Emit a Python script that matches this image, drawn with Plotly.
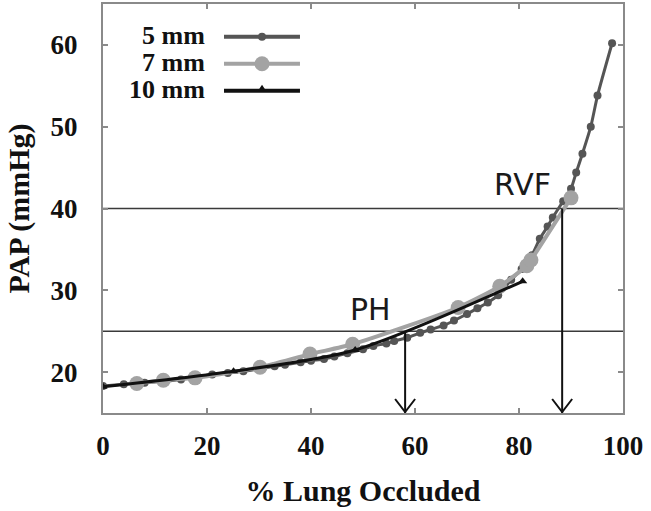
import plotly.graph_objects as go

# ---- data ----
x_5mm = [0, 4, 8, 12, 15, 18, 21, 24, 27, 30, 33, 35, 38, 40, 42.5, 44.5, 47, 50, 52, 54.5,
         56, 58.5, 61, 63, 65.5, 67.5, 70, 72, 74, 76, 78.5, 80.5, 82.5, 84, 85.5, 86.5,
         88.5, 90, 91, 92.2, 93.8, 95.1, 97.9]
y_5mm = [18.3, 18.5, 18.7, 18.9, 19.1, 19.4, 19.7, 19.9, 20.1, 20.4, 20.7, 20.9, 21.2, 21.4,
         21.6, 21.9, 22.3, 22.8, 23.2, 23.5, 23.8, 24.2, 24.8, 25.2, 25.7, 26.3, 27.1, 27.8,
         28.5, 29.4, 31.3, 32.6, 34.3, 36.3, 37.8, 38.9, 40.9, 42.4, 44.4, 46.7, 50.0, 53.8, 60.2]

x_7mm = [6.5, 11.6, 17.7, 30.2, 39.8, 48.0, 68.3, 76.3, 81.5, 82.3, 90.0]
y_7mm = [18.6, 19.0, 19.3, 20.6, 22.2, 23.4, 27.9, 30.5, 33.0, 33.7, 41.3]

x_10mm = [0, 25.1, 48.5, 80.7]
y_10mm = [18.2, 20.1, 22.7, 31.1]

series_names = ["5 mm", "7 mm", "10 mm"]
series_colors = ["#555555", "#a3a3a3", "#111111"]

x_ticks = [0, 20, 40, 60, 80, 100]
y_ticks = [20, 30, 40, 50, 60]

threshold_levels = [25, 40]           # PH and RVF pressure thresholds
threshold_labels = ["PH", "RVF"]
threshold_occlusion = [58.1, 88.3]    # % occluded where threshold is reached
label_pos_x = [51.5, 80.7]
label_pos_y = [27.7, 42.9]

x_range = [0, 100]
y_range = [15, 65]

# ---- figure ----
fig = go.Figure()

fig.add_trace(go.Scatter(
    x=x_5mm, y=y_5mm, mode="lines+markers", name=series_names[0],
    line=dict(color=series_colors[0], width=3, shape="spline", smoothing=0.6),
    marker=dict(symbol="circle", size=8, color=series_colors[0]),
    showlegend=False))
fig.add_trace(go.Scatter(
    x=x_7mm, y=y_7mm, mode="lines+markers", name=series_names[1],
    line=dict(color=series_colors[1], width=4, shape="spline", smoothing=0.6),
    marker=dict(symbol="circle", size=15, color=series_colors[1]),
    showlegend=False))
fig.add_trace(go.Scatter(
    x=x_10mm, y=y_10mm, mode="lines+markers", name=series_names[2],
    line=dict(color=series_colors[2], width=3, shape="spline", smoothing=0.8),
    marker=dict(symbol="triangle-up", size=8, color=series_colors[2]),
    showlegend=False))

# threshold horizontal lines
for lvl in threshold_levels:
    fig.add_hline(y=lvl, line=dict(color="#3a3a3a", width=1.5), layer="below")

# arrows down to the x-axis (line + open V head) and labels
for xo, lvl, lab, lx, ly in zip(threshold_occlusion, threshold_levels, threshold_labels,
                                label_pos_x, label_pos_y):
    fig.add_shape(type="line", xref="x", yref="y", x0=xo, x1=xo, y0=lvl, y1=y_range[0],
                  line=dict(color="#111111", width=2))
    fig.add_shape(type="path", xref="x", yref="y", xsizemode="pixel", ysizemode="pixel",
                  xanchor=xo, yanchor=y_range[0], path="M-10,14 L0,1 L10,14",
                  line=dict(color="#111111", width=2))
    fig.add_annotation(x=lx, y=ly, xref="x", yref="y", text=lab, showarrow=False,
                       font=dict(family="DejaVu Sans", size=30, color="#1a1a1a"))

# custom legend (text left of the sample lines)
leg_y = [0.920, 0.854, 0.788]
leg_marker = [("circle", 8), ("circle", 15), ("triangle", 7)]
for name, col, yy, (sym, sz) in zip(series_names, series_colors, leg_y, leg_marker):
    fig.add_annotation(x=0.2, y=yy, xref="paper", yref="paper", xanchor="right",
                       yanchor="middle", text=name, showarrow=False, height=26, yshift=2,
                       font=dict(family="Liberation Serif", size=26, color="#111111",
                                 weight="bold"))
    fig.add_shape(type="line", xref="paper", yref="paper", x0=0.2327, x1=0.3788,
                  y0=yy, y1=yy, line=dict(color=col, width=4))
    if sym == "circle":
        fig.add_shape(type="circle", xref="paper", yref="paper",
                      xsizemode="pixel", ysizemode="pixel", xanchor=0.3058, yanchor=yy,
                      x0=-sz / 2, x1=sz / 2, y0=-sz / 2, y1=sz / 2,
                      fillcolor=col, line=dict(width=0))
    else:
        fig.add_shape(type="path", xref="paper", yref="paper",
                      xsizemode="pixel", ysizemode="pixel", xanchor=0.3058, yanchor=yy,
                      path="M-4,0 L4,0 L0,6 Z", fillcolor=col, line=dict(width=0))

axis_common = dict(showgrid=False, zeroline=False, showline=True, linecolor="#8a8a8a",
                   linewidth=2, mirror="ticks", ticks="inside", ticklen=5,
                   tickcolor="#8a8a8a", tickwidth=1.5,
                   tickfont=dict(family="Liberation Serif", size=27, color="#111111",
                                 weight="bold"))

fig.update_layout(
    width=651, height=511,
    margin=dict(l=103, r=28, t=2, b=98),
    paper_bgcolor="white", plot_bgcolor="white",
    xaxis=dict(range=x_range, tickvals=x_ticks, ticklabelstandoff=8,
               title=dict(text="% Lung Occluded", standoff=20,
                          font=dict(family="Liberation Serif", size=30, color="#111111",
                                    weight="bold")),
               **axis_common),
    yaxis=dict(range=y_range, tickvals=y_ticks, ticklabelstandoff=18,
               title=dict(text="PAP (mmHg)", standoff=12,
                          font=dict(family="Liberation Serif", size=30, color="#111111",
                                    weight="bold")),
               **axis_common),
)

fig.write_html("out.html", config={"displayModeBar": False},
               post_script="document.body.style.margin='0px';document.body.style.overflow='hidden';")
